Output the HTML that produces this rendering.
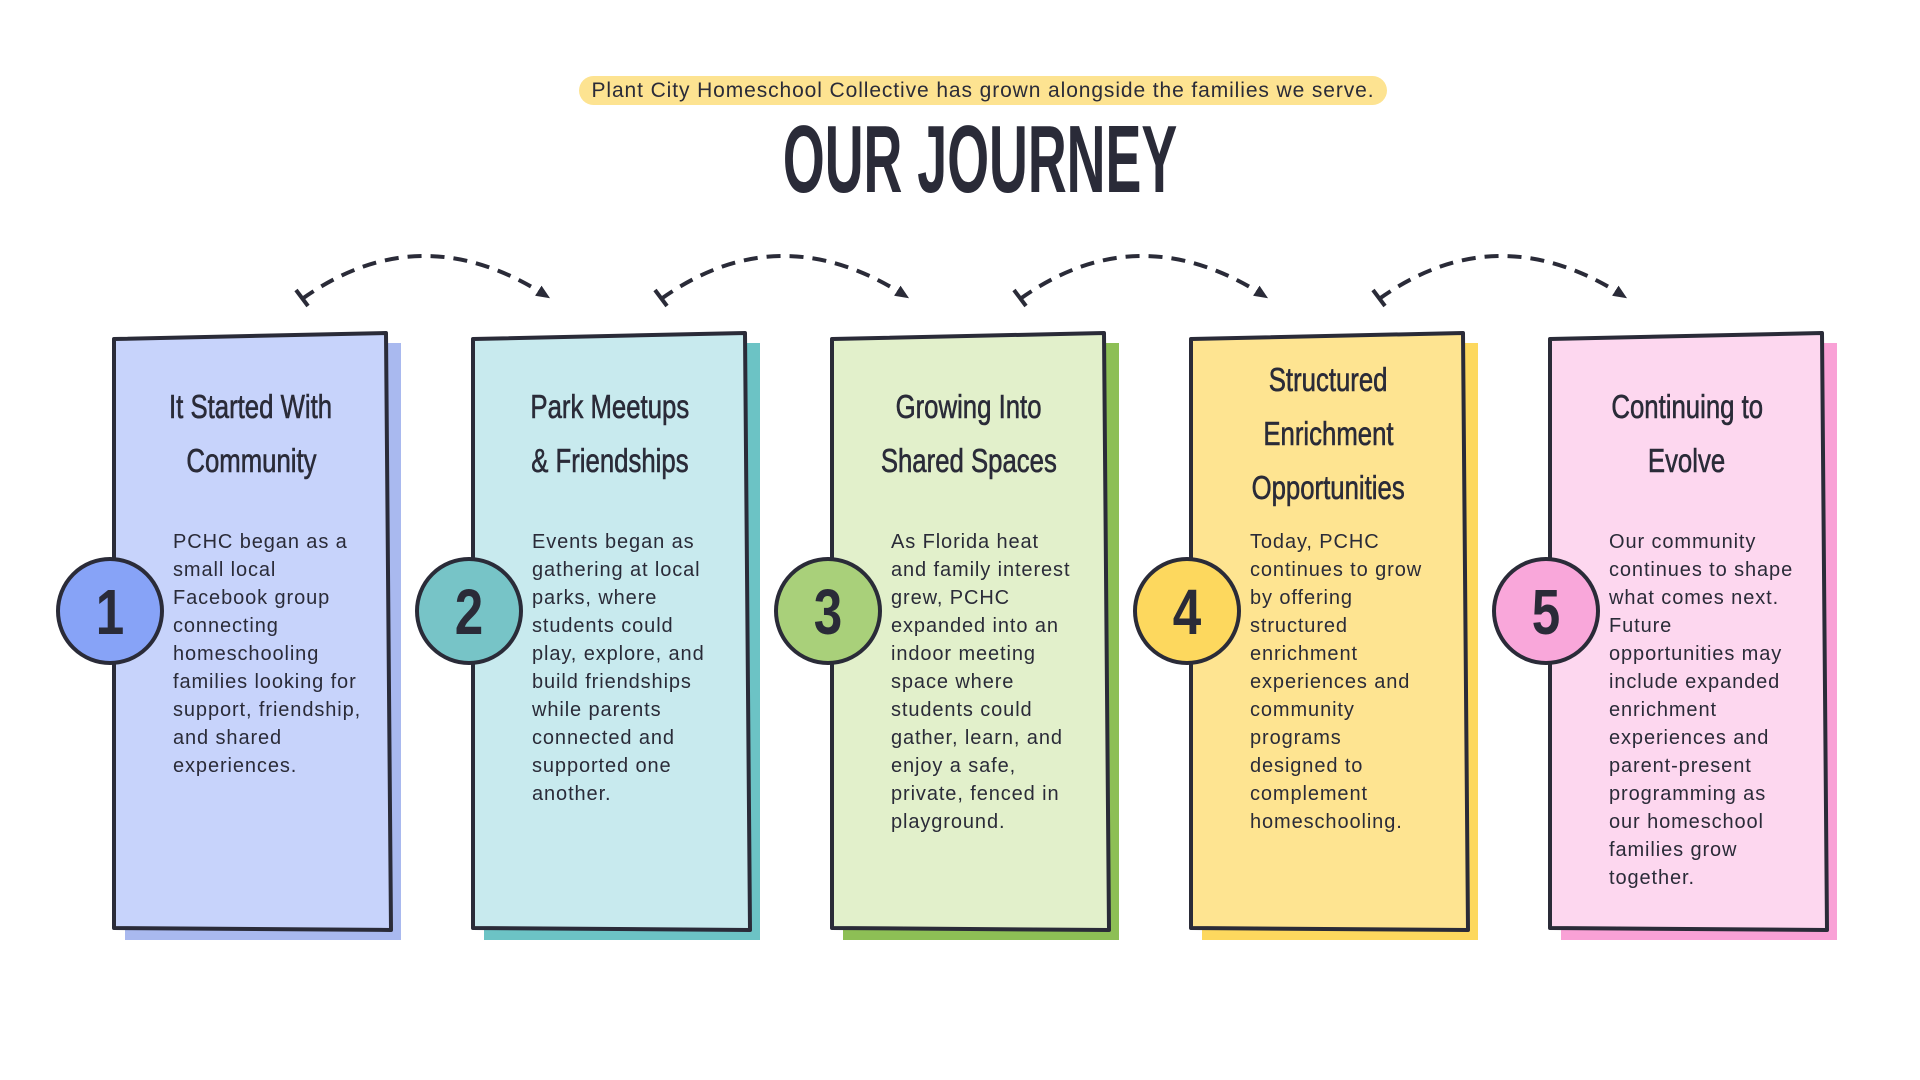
<!DOCTYPE html>
<html><head><meta charset="utf-8"><style>
body{margin:0;width:1920px;height:1080px;background:#fff;position:relative;overflow:hidden;font-family:"Liberation Sans",sans-serif;color:#2a2b38}
.abs{position:absolute}
.pill{left:579px;top:76px;width:808px;height:29px;background:#fde391;border-radius:15px;text-align:center;font-size:21px;letter-spacing:0.9px;line-height:29px}
.title{left:560px;top:110px;width:840px;text-align:center;font-weight:bold;font-size:96px;line-height:100px}
.title span{display:inline-block;transform:scaleX(0.56)}
.ct{text-align:center;font-size:33px;line-height:54px;width:274px}
.ct span{display:inline-block;transform:scaleX(0.78);-webkit-text-stroke:0.6px #2a2b38}
.cb{font-size:20px;letter-spacing:0.9px;line-height:28px;width:205px}
</style></head><body>
<svg class="abs" style="left:0;top:0" width="1920" height="1080">
<defs><marker id="ah" markerUnits="userSpaceOnUse" markerWidth="16" markerHeight="16" refX="8" refY="8" orient="auto"><path d="M0,2 L14,8 L0,14 z" fill="#2a2b38"/></marker></defs>
<rect x="125" y="343" width="276" height="597" fill="#a9b9ef"/>
<rect x="484" y="343" width="276" height="597" fill="#6cc3c5"/>
<rect x="843" y="343" width="276" height="597" fill="#8dbf55"/>
<rect x="1202" y="343" width="276" height="597" fill="#fdd85e"/>
<rect x="1561" y="343" width="276" height="597" fill="#f9a1d6"/>
<g stroke="#2a2b38" stroke-width="4" stroke-linejoin="round">
<path d="M114,339 L386,333 L391,930 L114,928 Z" fill="#c7d3fb"/>
<path d="M473,339 L745,333 L750,930 L473,928 Z" fill="#c8eaee"/>
<path d="M832,339 L1104,333 L1109,930 L832,928 Z" fill="#e2f0cb"/>
<path d="M1191,339 L1463,333 L1468,930 L1191,928 Z" fill="#fee491"/>
<path d="M1550,339 L1822,333 L1827,930 L1550,928 Z" fill="#fdd7ef"/>
<circle cx="110" cy="611" r="52" fill="#87a3f7"/>
<circle cx="469" cy="611" r="52" fill="#77c4c7"/>
<circle cx="828" cy="611" r="52" fill="#a9d07a"/>
<circle cx="1187" cy="611" r="52" fill="#fdd85e"/>
<circle cx="1546" cy="611" r="52" fill="#f9a7da"/>
</g>
<g fill="none" stroke="#2a2b38" stroke-width="4" stroke-dasharray="14,9" marker-end="url(#ah)">
<path d="M302,299 Q420,215 545,295"/>
<path d="M661,299 Q779,215 904,295"/>
<path d="M1020,299 Q1138,215 1263,295"/>
<path d="M1379,299 Q1497,215 1622,295"/>
</g>
<g stroke="#2a2b38" stroke-width="4">
<line x1="296" y1="290" x2="308" y2="306"/><line x1="655" y1="290" x2="667" y2="306"/><line x1="1014" y1="290" x2="1026" y2="306"/><line x1="1373" y1="290" x2="1385" y2="306"/>
</g>
<g font-family="Liberation Sans,sans-serif" font-weight="bold" font-size="64" fill="#2a2b38" text-anchor="middle">
<text x="110" y="634" transform="translate(110 0) scale(0.8 1) translate(-110 0)">1</text>
<text x="469" y="634" transform="translate(469 0) scale(0.8 1) translate(-469 0)">2</text>
<text x="828" y="634" transform="translate(828 0) scale(0.8 1) translate(-828 0)">3</text>
<text x="1187" y="634" transform="translate(1187 0) scale(0.8 1) translate(-1187 0)">4</text>
<text x="1546" y="634" transform="translate(1546 0) scale(0.8 1) translate(-1546 0)">5</text>
</g>
</svg>
<div class="abs pill">Plant City Homeschool Collective has grown alongside the families we serve.</div>
<div class="abs title"><span>OUR JOURNEY</span></div>

<div class="abs ct" style="left:114px;top:380px"><span>It Started With</span><br><span>Community</span></div>
<div class="abs ct" style="left:473px;top:380px"><span>Park Meetups</span><br><span>&amp; Friendships</span></div>
<div class="abs ct" style="left:832px;top:380px"><span>Growing Into</span><br><span>Shared Spaces</span></div>
<div class="abs ct" style="left:1191px;top:353px"><span>Structured</span><br><span>Enrichment</span><br><span>Opportunities</span></div>
<div class="abs ct" style="left:1550px;top:380px"><span>Continuing to</span><br><span>Evolve</span></div>

<div class="abs cb" style="left:173px;top:528px">PCHC began as a<br>small local<br>Facebook group<br>connecting<br>homeschooling<br>families looking for<br>support, friendship,<br>and shared<br>experiences.</div>
<div class="abs cb" style="left:532px;top:528px">Events began as<br>gathering at local<br>parks, where<br>students could<br>play, explore, and<br>build friendships<br>while parents<br>connected and<br>supported one<br>another.</div>
<div class="abs cb" style="left:891px;top:528px">As Florida heat<br>and family interest<br>grew, PCHC<br>expanded into an<br>indoor meeting<br>space where<br>students could<br>gather, learn, and<br>enjoy a safe,<br>private, fenced in<br>playground.</div>
<div class="abs cb" style="left:1250px;top:528px">Today, PCHC<br>continues to grow<br>by offering<br>structured<br>enrichment<br>experiences and<br>community<br>programs<br>designed to<br>complement<br>homeschooling.</div>
<div class="abs cb" style="left:1609px;top:528px">Our community<br>continues to shape<br>what comes next.<br>Future<br>opportunities may<br>include expanded<br>enrichment<br>experiences and<br>parent-present<br>programming as<br>our homeschool<br>families grow<br>together.</div>
</body></html>
